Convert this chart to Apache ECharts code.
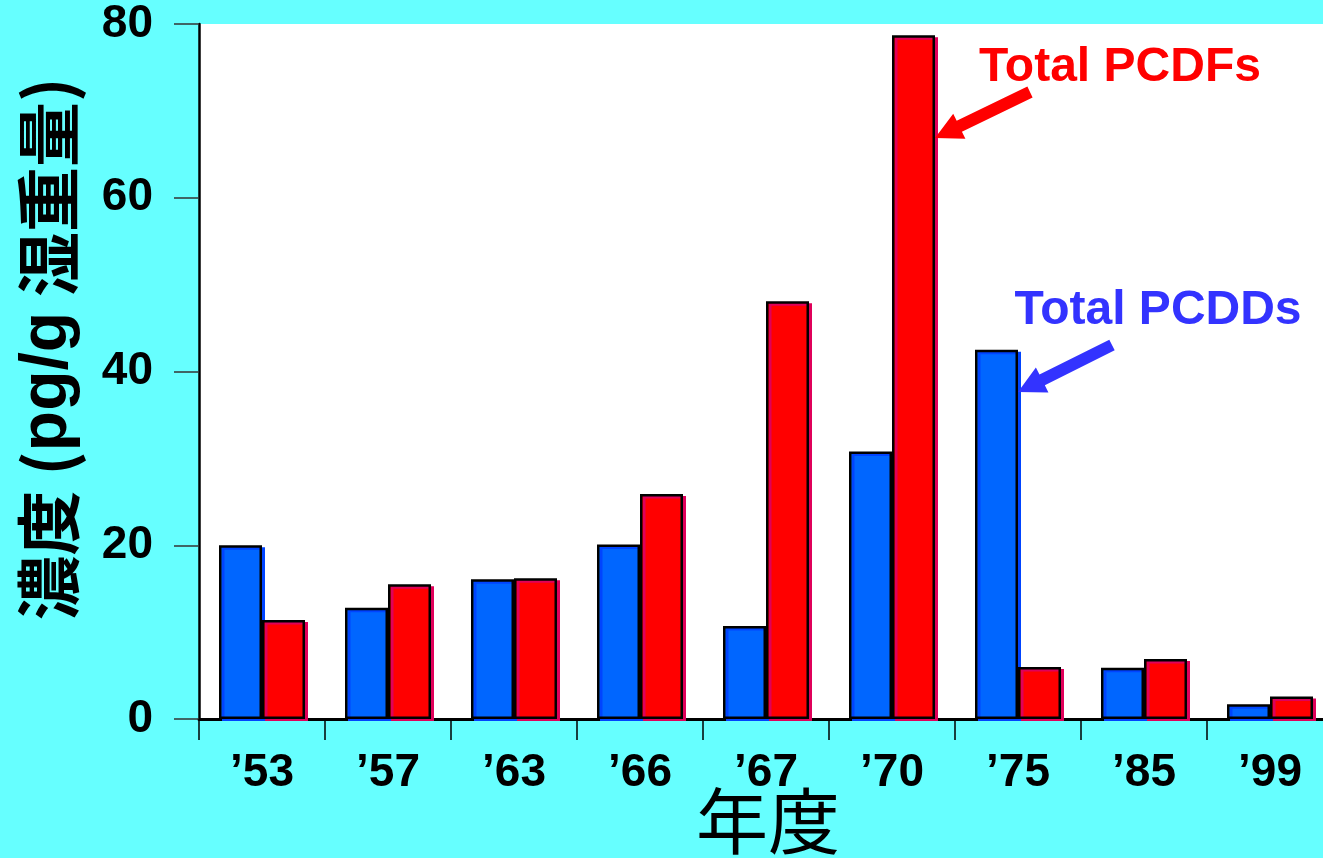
<!DOCTYPE html>
<html>
<head>
<meta charset="utf-8">
<style>
  html, body { margin: 0; padding: 0; background: #66FFFF; }
  #chart { width: 1323px; height: 858px; }
</style>
<script src="https://cdn.jsdelivr.net/npm/echarts@6/dist/echarts.min.js"></script>
</head>
<body>
<div id="chart"></div>
<script>
// Years sampled and dioxin concentrations (pg/g wet weight)
const years = ['\u201953', '\u201957', '\u201963', '\u201966', '\u201967', '\u201970', '\u201975', '\u201985', '\u201999'];
const pcdds = [20.0, 12.8, 16.1, 20.1, 10.7, 30.8, 42.5, 5.9, 1.7];
const pcdfs = [11.4, 15.5, 16.2, 25.9, 48.1, 78.7, 6.0, 6.9, 2.6];
const yTicks = [0, 20, 40, 60, 80];

const LATIN = '"Liberation Sans", Arial, sans-serif';
const CJK = '"Noto Sans CJK JP", "Noto Sans CJK SC", sans-serif';

// Polygon for a thick arrow from tail to tip
function arrowShape(tx, ty, hx, hy, shaftW, headL, headW) {
  const dx = hx - tx, dy = hy - ty;
  const len = Math.hypot(dx, dy);
  const ux = dx / len, uy = dy / len;
  const nx = -uy, ny = ux;
  const bx = hx - ux * headL, by = hy - uy * headL;
  const s = shaftW / 2, h = headW / 2;
  return [
    [tx + nx * s, ty + ny * s],
    [bx + nx * s, by + ny * s],
    [bx + nx * h, by + ny * h],
    [hx, hy],
    [bx - nx * h, by - ny * h],
    [bx - nx * s, by - ny * s],
    [tx - nx * s, ty - ny * s]
  ];
}

const chart = echarts.init(document.getElementById('chart'), null, { renderer: 'canvas' });

chart.setOption({
  backgroundColor: '#66FFFF',
  animation: false,
  grid: {
    left: 199, top: 24, width: 1134, height: 695,
    outerBoundsMode: 'none',
    containLabel: false,
    show: true, backgroundColor: '#FFFFFF', borderWidth: 0
  },
  xAxis: {
    type: 'category',
    data: years,
    axisLine: { lineStyle: { color: '#000', width: 3 } },
    axisTick: { show: true, length: 21, lineStyle: { color: '#000', width: 1.5 } },
    axisLabel: {
      color: '#000', fontSize: 46, fontWeight: 'bold', fontFamily: LATIN, margin: 31
    }
  },
  yAxis: {
    type: 'value',
    min: 0, max: 80, interval: 20,
    splitLine: { show: false },
    axisLine: { show: true, lineStyle: { color: '#000', width: 2.5 } },
    axisTick: { show: true, length: 25, lineStyle: { color: '#333', width: 1.5 } },
    axisLabel: {
      color: '#000', fontSize: 46, fontWeight: 'bold', fontFamily: LATIN, margin: 46,
      formatter: v => yTicks.includes(v) ? String(v) : ''
    }
  },
  series: [
    {
      name: 'Total PCDDs',
      type: 'bar',
      data: pcdds,
      barWidth: 43,
      barGap: '0%',
      itemStyle: {
        color: '#0066FF', borderColor: '#000', borderWidth: 2.5,
        shadowColor: '#0044FF', shadowOffsetX: 3, shadowOffsetY: 2, shadowBlur: 0
      }
    },
    {
      name: 'Total PCDFs',
      type: 'bar',
      data: pcdfs,
      barWidth: 43,
      itemStyle: {
        color: '#FF0000', borderColor: '#000', borderWidth: 2.5,
        shadowColor: '#E0005A', shadowOffsetX: 3, shadowOffsetY: 2, shadowBlur: 0
      }
    }
  ],
  graphic: [
    {
      // vertical y-axis title: 濃度 (pg/g 湿重量)
      type: 'text',
      x: 48, y: 349,
      rotation: Math.PI / 2,
      style: {
        text: '{c|濃度 (}{l|pg/g}{c| 湿重量)}',
        align: 'center',
        verticalAlign: 'middle',
        rich: {
          c: { fill: '#000', fontSize: 65, fontWeight: 'bold', fontFamily: CJK },
          l: { fill: '#000', fontSize: 66, fontWeight: 'bold', fontFamily: LATIN }
        }
      },
      z: 10
    },
    {
      // x-axis title
      type: 'text',
      x: 768, y: 821,
      style: {
        text: '年度', fill: '#000',
        font: '72px ' + CJK, align: 'center', verticalAlign: 'middle'
      },
      z: 10
    },
    {
      type: 'text',
      x: 1120, y: 68,
      style: {
        text: 'Total PCDFs', fill: '#FF0000',
        font: 'bold 48px ' + LATIN, align: 'center', verticalAlign: 'middle'
      },
      z: 10
    },
    {
      type: 'polygon',
      shape: { points: arrowShape(1030, 92, 935, 138, 12, 27, 28) },
      style: { fill: '#FF0000' },
      z: 10
    },
    {
      type: 'text',
      x: 1158, y: 311,
      style: {
        text: 'Total PCDDs', fill: '#3333FF',
        font: 'bold 48px ' + LATIN, align: 'center', verticalAlign: 'middle'
      },
      z: 10
    },
    {
      type: 'polygon',
      shape: { points: arrowShape(1112, 345, 1018, 392, 12, 27, 28) },
      style: { fill: '#3333FF' },
      z: 10
    }
  ]
});
</script>
</body>
</html>
